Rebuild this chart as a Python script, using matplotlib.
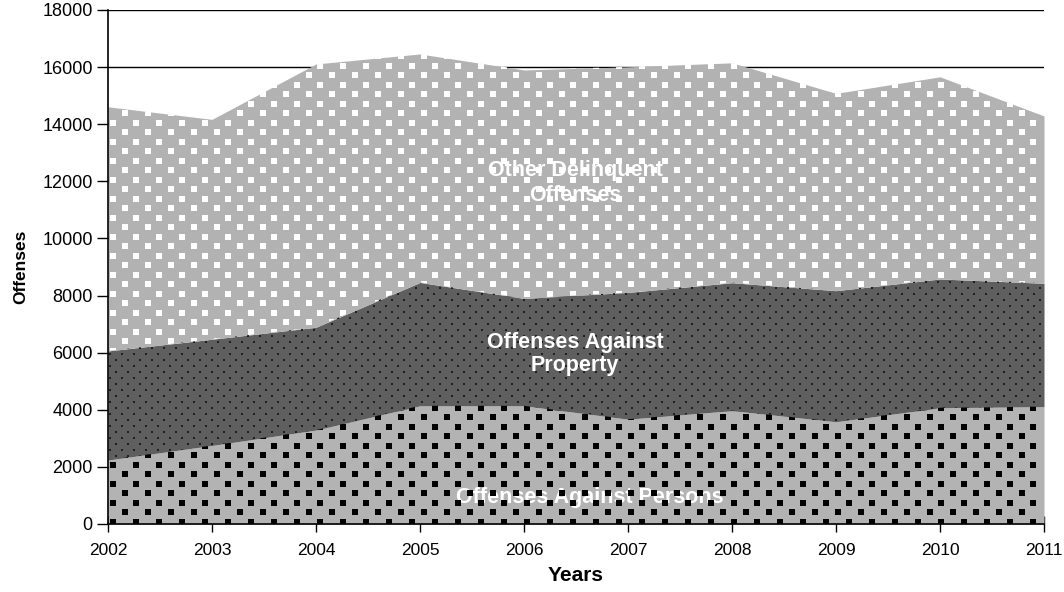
import numpy as np
import matplotlib.pyplot as plt

plt.rcParams['font.family'] = ['Liberation Sans', 'DejaVu Sans']

# values (stacked areas)
years = [2002, 2003, 2004, 2005, 2006, 2007, 2008, 2009, 2010, 2011]
persons = [2240, 2750, 3290, 4140, 4140, 3670, 3970, 3580, 4070, 4110]
property_ = [3820, 3720, 3600, 4320, 3760, 4440, 4480, 4590, 4510, 4320]
other = [8550, 7700, 9220, 8000, 8000, 7900, 7700, 6910, 7080, 5860]

y_ticks = list(range(0, 18001, 2000))

FIG_W, FIG_H = 1064, 592
AX_L, AX_R, AX_B, AX_T = 108, 1044, 68, 582   # axes box in pixels (from bottom)

fig = plt.figure(figsize=(FIG_W / 100, FIG_H / 100), dpi=100)
ax = fig.add_axes([AX_L / FIG_W, AX_B / FIG_H, (AX_R - AX_L) / FIG_W, (AX_T - AX_B) / FIG_H])

persons = np.array(persons)
prop_top = persons + np.array(property_)
total = prop_top + np.array(other)


def texture(poly, color, dx, dy, size, start=0.0, yoff=0.0):
    """staggered grid of little squares, clipped to the filled area"""
    w = AX_R - AX_L
    h = AX_T - AX_B
    xs, ys = [], []
    for i, yy in enumerate(np.arange(yoff, h, dy)):
        x0 = start + (dx / 2 if i % 2 else 0)
        row = np.arange(x0, w, dx)
        xs.extend(row / w)
        ys.extend([yy / h] * len(row))
    sc = ax.scatter(xs, ys, s=size, marker='s', c=color, linewidths=0,
                    transform=ax.transAxes, zorder=3)
    sc.set_clip_path(poly.get_paths()[0], ax.transData)


p1 = ax.fill_between(years, 0, persons, color='#b3b3b3', lw=0, zorder=2)
p2 = ax.fill_between(years, persons, prop_top, color='#5f5f5f', lw=0, zorder=2)
p3 = ax.fill_between(years, prop_top, total, color='#b2b2b2', lw=0, zorder=2)

texture(p1, '#000000', 23, 9.5, 17, start=5.3, yoff=2.3)
texture(p2, '#1e1e1e', 12, 6, 2.5, start=2, yoff=2)
texture(p3, '#ffffff', 23, 9.5, 15, start=5.3, yoff=2.3)

# series labels
ax.text(2006.49, 11940, 'Other Delinquent\nOffenses', color='white', fontsize=15.5,
        fontweight='bold', ha='center', va='center', linespacing=1.2, zorder=2.5)
ax.text(2006.49, 5950, 'Offenses Against\nProperty', color='white', fontsize=15.5,
        fontweight='bold', ha='center', va='center', linespacing=1.1, zorder=4)
ax.text(2006.63, 945, 'Offenses Against Persons', color='white', fontsize=15.5,
        fontweight='bold', ha='center', va='center', zorder=2.5)

ax.set_xlim(2002, 2011)
ax.set_ylim(0, 18000)
ax.set_xticks(years)
ax.set_yticks(y_ticks)
ax.grid(axis='y', color='black', lw=1)
ax.set_axisbelow(True)

for s in ['top', 'right']:
    ax.spines[s].set_visible(False)
ax.spines['left'].set_linewidth(1.2)
ax.spines['bottom'].set_linewidth(1.2)
ax.spines['left'].set_zorder(5)
ax.spines['bottom'].set_zorder(5)

ax.tick_params(axis='y', direction='out', length=8, width=1, pad=3, labelsize=13)
ax.tick_params(axis='x', direction='inout', length=11, width=1, pad=8, labelsize=12.5)

ax.set_xlabel('Years', fontsize=15, fontweight='bold', labelpad=6)
ax.set_ylabel('Offenses', fontsize=12.5, fontweight='bold', labelpad=10)

fig.savefig('out.png', dpi=100)
